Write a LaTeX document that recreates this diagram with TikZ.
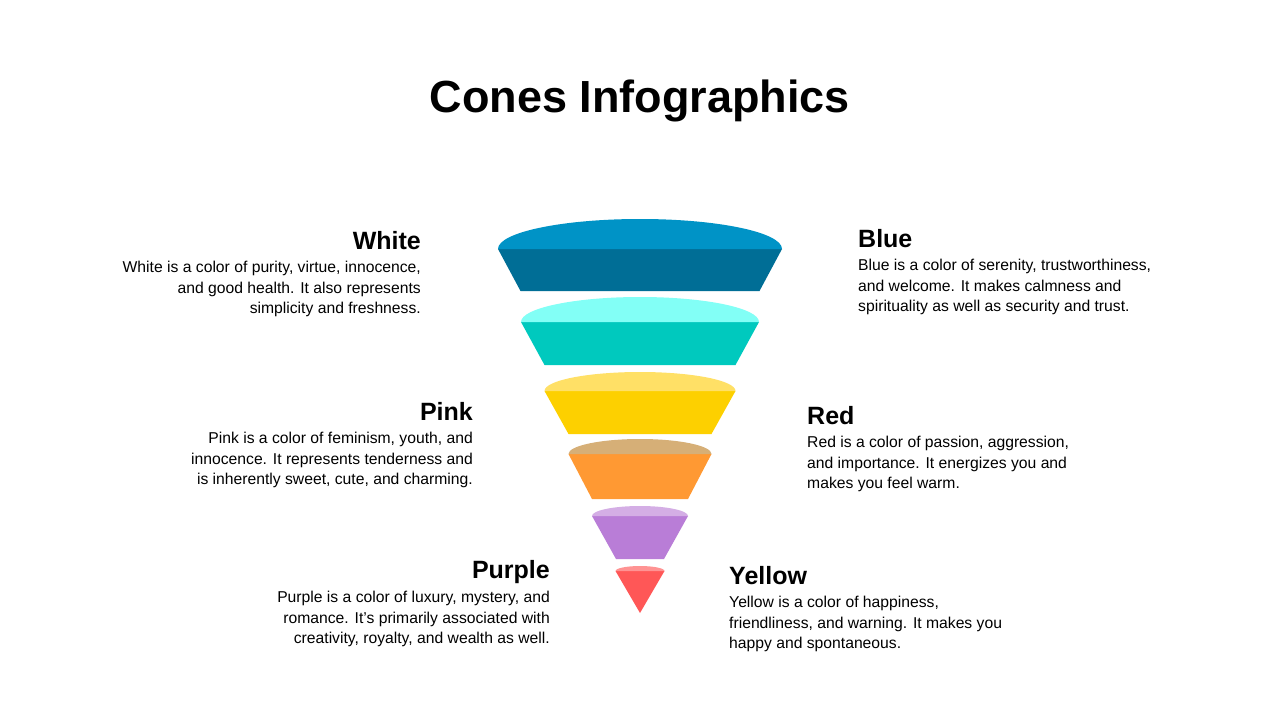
\documentclass[tikz,border=0pt]{standalone}
\usepackage{fontspec}
\setmainfont{Liberation Sans}
\definecolor{blueTop}{HTML}{0093C6}
\definecolor{blueBand}{HTML}{006E96}
\definecolor{tealTop}{HTML}{82FFF6}
\definecolor{tealBand}{HTML}{00C9BE}
\definecolor{yelTop}{HTML}{FFE066}
\definecolor{yelBand}{HTML}{FDD000}
\definecolor{oraTop}{HTML}{D6AF77}
\definecolor{oraBand}{HTML}{FF9933}
\definecolor{purTop}{HTML}{D4AEE5}
\definecolor{purBand}{HTML}{B97DD7}
\definecolor{redTop}{HTML}{FF9393}
\definecolor{redBand}{HTML}{FF5757}
% #1 cx, #2 base y of ellipse, #3 half width, #4 ry, #5 bottom y, #6 bottom half width, #7 top colour, #8 band colour
\newcommand\conelayer[8]{%
  \fill[#8] ({#1-#3},#2) -- ({#1+#3},#2) -- ({#1+#6},#5) -- ({#1-#6},#5) -- cycle;
  \fill[#7] ({#1-#3},#2) .. controls ({#1-#3},{#2-0.552*#4}) and ({#1-0.552*#3},{#2-#4}) .. (#1,{#2-#4})
     .. controls ({#1+0.552*#3},{#2-#4}) and ({#1+#3},{#2-0.552*#4}) .. ({#1+#3},#2) -- cycle;
}
\begin{document}
\begin{tikzpicture}[x=1pt,y=-1pt,
  title/.style={font=\fontsize{45}{50}\selectfont\bfseries, inner sep=0, anchor=base},
  head/.style={font=\fontsize{25}{30}\selectfont\bfseries, inner sep=0},
  bodyL/.style={font=\fontsize{15.7}{20.5}\selectfont, align=left, anchor=north west, inner sep=0},
  bodyR/.style={font=\fontsize{15.7}{20.5}\selectfont, align=right, anchor=north east, inner sep=0}]
\useasboundingbox[fill=white] (0,0) rectangle (1280,720);

\node[title] (t) at (640,112) {Cones Infographics};

% cone layers
\conelayer{640}{249}{142}{30}{291}{119.5}{blueTop}{blueBand}
\conelayer{640}{322}{119}{25}{365}{95.5}{tealTop}{tealBand}
\conelayer{640}{391}{95.5}{19}{434}{71.5}{yelTop}{yelBand}
\conelayer{640}{454}{71.5}{15}{499}{48}{oraTop}{oraBand}
\conelayer{640}{516}{48}{10}{559}{24}{purTop}{purBand}
\conelayer{640}{571}{24.5}{5}{613}{0}{redTop}{redBand}

% left texts
\node[head, anchor=base east] (hw) at (421,249) {White};
\node[bodyR] (bw) at (421,261) {White is a color of purity, virtue, innocence,\\and good health. It also represents\\simplicity and freshness.};
\node[head, anchor=base east] (hp) at (473,420) {Pink};
\node[bodyR] (bp) at (473,432) {Pink is a color of feminism, youth, and\\innocence. It represents tenderness and\\is inherently sweet, cute, and charming.};
\node[head, anchor=base east] (hpu) at (550,578) {Purple};
\node[bodyR] (bpu) at (550,591) {Purple is a color of luxury, mystery, and\\romance. It's primarily associated with\\creativity, royalty, and wealth as well.};

% right texts
\node[head, anchor=base west] (hb) at (858,247) {Blue};
\node[bodyL] (bb) at (858,259) {Blue is a color of serenity, trustworthiness,\\and welcome. It makes calmness and\\spirituality as well as security and trust.};
\node[head, anchor=base west] (hr) at (807,424) {Red};
\node[bodyL] (br) at (807,436) {Red is a color of passion, aggression,\\and importance. It energizes you and\\makes you feel warm.};
\node[head, anchor=base west] (hy) at (729,584) {Yellow};
\node[bodyL] (by) at (729,596) {Yellow is a color of happiness,\\friendliness, and warning. It makes you\\happy and spontaneous.};
\end{tikzpicture}
\end{document}
